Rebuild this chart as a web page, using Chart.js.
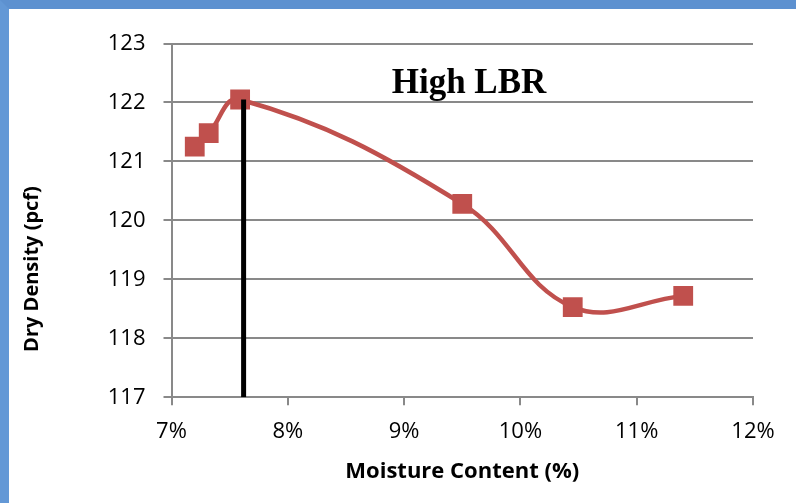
<!DOCTYPE html>
<html lang="en">
<head>
  <meta charset="UTF-8">
  <title>High LBR</title>
  <script src="https://cdn.jsdelivr.net/npm/chart.js"></script>
  <style>
    body { margin: 0; background: #fff; }
    .frame { width: 787px; height: 494px; border-top: 9px solid #5d91d0; border-left: 9px solid #6398d6; background: #fff; }
    .chart-container { position: relative; width: 787px; height: 494px; }
  </style>
</head>
<body>
  <div class="frame">
    <div class="chart-container">
      <canvas id="chartLBR"></canvas>
    </div>
  </div>

  <script>
    // moisture content (%) vs dry density (pcf)
    const moisture = [7.20, 7.32, 7.59, 9.50, 10.45, 11.40];
    const density = [121.25, 121.48, 122.05, 120.28, 118.53, 118.72];
    // vertical marker at optimum moisture
    const optX = [7.62, 7.62];
    const optY = [117, 122.05];

    const chartTitle = 'High LBR';
    const xTitle = 'Moisture Content (%)';
    const yTitle = 'Dry Density (pcf)';

    const red = '#c0504d';
    const grid = '#898989';

    const textPlugin = {
      id: 'textPlugin',
      afterDraw(chart) {
        const ctx = chart.ctx;
        ctx.save();
        ctx.fillStyle = '#000';
        ctx.font = 'bold 35px "Liberation Serif"';
        ctx.textAlign = 'center';
        ctx.textBaseline = 'alphabetic';
        ctx.fillText(chartTitle, 460, 84);

        ctx.translate(23, 260);
        ctx.rotate(-Math.PI / 2);
        ctx.font = 'bold 20px "Open Sans"';
        ctx.textBaseline = 'middle';
        ctx.fillText(yTitle, 0, 0);
        ctx.restore();
      }
    };

    new Chart(document.getElementById('chartLBR'), {
      type: 'line',
      data: {
        datasets: [
          {
            data: optX.map((x, i) => ({ x: x, y: optY[i] })),
            borderColor: '#000',
            borderWidth: 5,
            pointRadius: 0,
            tension: 0
          },
          {
            data: moisture.map((x, i) => ({ x: x, y: density[i] })),
            borderColor: red,
            backgroundColor: red,
            borderWidth: 4.5,
            pointStyle: 'rect',
            pointRadius: 14,
            pointBorderWidth: 0,
            tension: 0.4
          }
        ]
      },
      options: {
        responsive: true,
        maintainAspectRatio: false,
        animation: false,
        layout: { padding: { top: 34.5, right: 43, left: 0, bottom: 0 } },
        plugins: {
          legend: { display: false },
          tooltip: { enabled: false }
        },
        scales: {
          x: {
            type: 'linear',
            min: 7,
            max: 12,
            afterFit: s => { s.height = 105.7; },
            ticks: {
              stepSize: 1,
              padding: 13,
              color: '#000',
              font: { family: 'Open Sans', size: 22 },
              callback: v => v + '%'
            },
            grid: { drawOnChartArea: false, tickLength: 8, color: grid, lineWidth: 2 },
            border: { color: grid, width: 2 },
            title: {
              display: true,
              text: xTitle,
              color: '#000',
              font: { family: 'Open Sans', size: 22, weight: 'bold' },
              padding: { top: 0, bottom: 18 }
            }
          },
          y: {
            min: 117,
            max: 123,
            afterFit: s => { s.width = 162.5; },
            ticks: {
              stepSize: 1,
              padding: 18,
              color: '#000',
              font: { family: 'Open Sans', size: 22 }
            },
            grid: { tickLength: 8, color: grid, lineWidth: 2 },
            border: { color: grid, width: 2 }
          }
        }
      },
      plugins: [textPlugin]
    });
  </script>
</body>
</html>
